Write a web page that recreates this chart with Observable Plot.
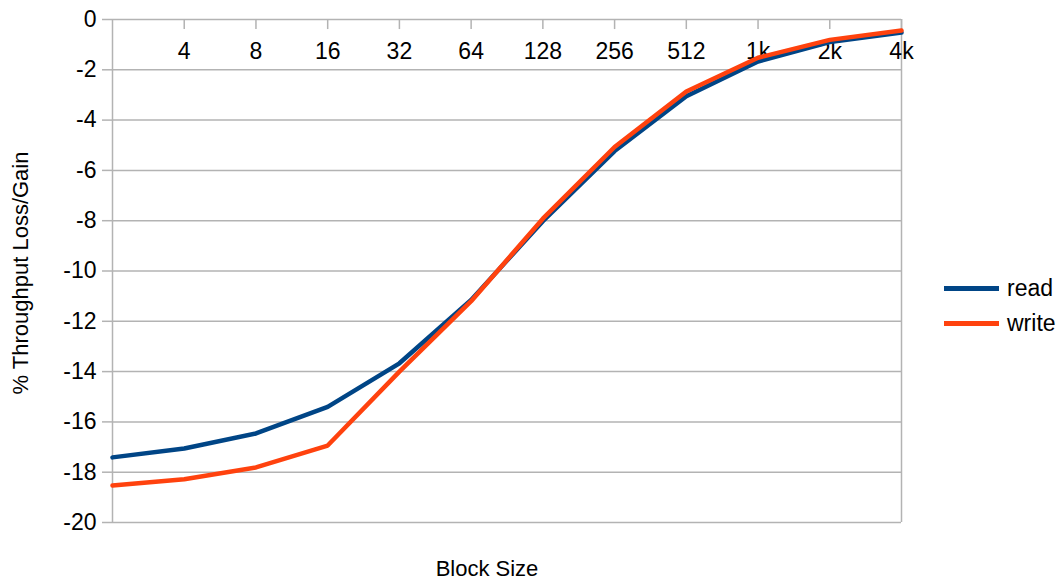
<!DOCTYPE html>
<html>
<head>
<meta charset="utf-8">
<script src="https://cdn.jsdelivr.net/npm/d3@7"></script>
<script src="https://cdn.jsdelivr.net/npm/@observablehq/plot@0.6"></script>
<style>
  html, body { margin: 0; padding: 0; background: #fff; overflow: hidden; }
  #wrap { position: relative; width: 1062px; height: 583px; font-family: "Liberation Sans", Arial, sans-serif; }
  #wrap svg { display: block; }
  #legend { position: absolute; left: 944px; top: 273px; }
  .item { position: absolute; left: 0; height: 30px; width: 120px; }
  .swatch { position: absolute; left: 0; top: 13px; width: 55px; height: 5px; }
  .lab { position: absolute; left: 63px; top: 0; font-size: 23px; line-height: 30px; color: #000; white-space: nowrap; }
</style>
</head>
<body>
<div id="wrap"></div>
<script>
// ---- data ----
const categories = ["2", "4", "8", "16", "32", "64", "128", "256", "512", "1k", "2k", "4k"];
const labeledTicks = ["4", "8", "16", "32", "64", "128", "256", "512", "1k", "2k", "4k"];
const seriesNames = ["read", "write"];
const seriesColors = ["#004586", "#ff420e"];
const readValues  = [-17.41, -17.06, -16.46, -15.40, -13.67, -11.15, -8.02, -5.23, -3.05, -1.67, -0.90, -0.52];
const writeValues = [-18.53, -18.28, -17.81, -16.94, -14.00, -11.20, -7.92, -5.07, -2.86, -1.52, -0.81, -0.44];
const yTicks = [0, -2, -4, -6, -8, -10, -12, -14, -16, -18, -20];
const yTitle = "% Throughput Loss/Gain";
const xTitle = "Block Size";

const rows = [];
categories.forEach((c, i) => {
  rows.push({cat: c, value: readValues[i], series: "read"});
  rows.push({cat: c, value: writeValues[i], series: "write"});
});

const grid = "#b3b3b3";

const chart = Plot.plot({
  width: 1062,
  height: 583,
  marginLeft: 112,
  marginRight: 161,
  marginTop: 19,
  marginBottom: 61,
  style: {fontFamily: "'Liberation Sans', Arial, sans-serif", fontSize: "23px", color: "#000", background: "#fff"},
  x: {type: "point", domain: categories, padding: 0, round: false, axis: null},
  y: {domain: [-20, 0], axis: null},
  color: {domain: seriesNames, range: seriesColors},
  marks: [
    Plot.ruleY(yTicks, {stroke: grid, strokeWidth: 1.5}),
    Plot.ruleX([categories[0], categories[categories.length - 1]], {stroke: grid, strokeWidth: 1.5}),
    Plot.ruleX(labeledTicks, {x: d => d, y1: 0, y2: -0.4, stroke: grid, strokeWidth: 1.5}),
    Plot.axisY({ticks: yTicks, tickSize: 10, tickPadding: 6, stroke: grid, strokeWidth: 1.5, label: null, tickFormat: d => String(d), fontSize: 23}),
    Plot.text(labeledTicks, {x: d => d, y: 0, dy: 32, text: d => d, fontSize: 23, fill: "#000"}),
    Plot.line(rows, {x: "cat", y: "value", z: "series", stroke: "series", strokeWidth: 4.5, strokeLinejoin: "round"}),
    Plot.text([yTitle], {frameAnchor: "left", textAnchor: "middle", lineAnchor: "middle", rotate: -90, dx: -92, dy: 2, text: d => d, fontSize: 22, fill: "#000"}),
    Plot.text([xTitle], {frameAnchor: "bottom", textAnchor: "middle", lineAnchor: "middle", dx: -20, dy: 46, text: d => d, fontSize: 22, fill: "#000"})
  ]
});

const wrap = document.getElementById("wrap");
wrap.appendChild(chart);

const legend = document.createElement("div");
legend.id = "legend";
seriesNames.forEach((name, i) => {
  const item = document.createElement("div");
  item.className = "item";
  item.style.top = (i * 34.5) + "px";
  const sw = document.createElement("div");
  sw.className = "swatch";
  sw.style.background = seriesColors[i];
  const lab = document.createElement("div");
  lab.className = "lab";
  lab.textContent = name;
  item.appendChild(sw);
  item.appendChild(lab);
  legend.appendChild(item);
});
wrap.appendChild(legend);
</script>
</body>
</html>
